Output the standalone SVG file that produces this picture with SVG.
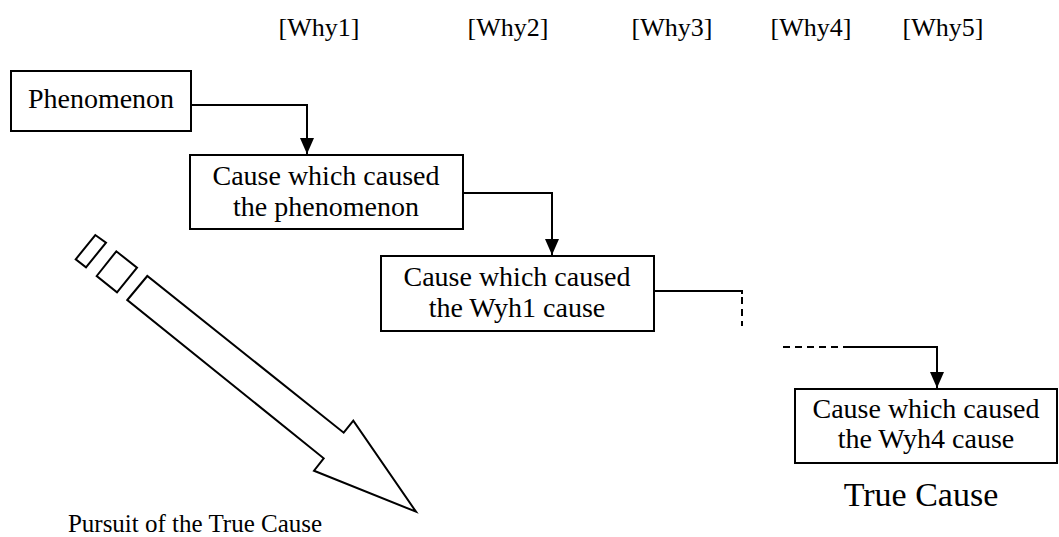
<svg xmlns="http://www.w3.org/2000/svg" width="1059" height="537" viewBox="0 0 1059 537">
  <style>
    .box { fill: #fff; stroke: #000; stroke-width: 2; }
    .lbl { font-family: "Liberation Serif", "Times New Roman", serif; font-size: 28px; fill: #000; text-anchor: middle; }
    .why { font-family: "Liberation Serif", "Times New Roman", serif; font-size: 26px; fill: #000; text-anchor: middle; }
    .wire { fill: none; stroke: #000; stroke-width: 2; }
    .dash { fill: none; stroke: #000; stroke-width: 2; stroke-dasharray: 7 5; }
    .big { fill: #fff; stroke: #000; stroke-width: 2; stroke-linejoin: miter; }
  </style>
  <defs>
    <marker id="head" markerUnits="userSpaceOnUse" markerWidth="16" markerHeight="14" viewBox="0 0 16 14" refX="16" refY="7" orient="auto">
      <path d="M0,0 L16,7 L0,14 Z" fill="#000"/>
    </marker>
  </defs>
  <rect width="1059" height="537" fill="#fff"/>

  <!-- column headings -->
  <g id="headings">
    <text class="why" x="319" y="36">[Why1]</text>
    <text class="why" x="508" y="36">[Why2]</text>
    <text class="why" x="672" y="36">[Why3]</text>
    <text class="why" x="811" y="36">[Why4]</text>
    <text class="why" x="943" y="36">[Why5]</text>
  </g>

  <!-- connectors -->
  <g id="connectors">
    <path class="wire" d="M191,105 H307 V154" marker-end="url(#head)"/>
    <path class="wire" d="M463,193 H552 V255" marker-end="url(#head)"/>
    <path class="wire" d="M654,291 H742 V294"/>
    <path class="dash" d="M742,297 V326"/>
    <path class="dash" d="M783,347 H850"/>
    <path class="wire" d="M850,347 H937 V388" marker-end="url(#head)"/>
  </g>

  <g id="phenomenon">
    <rect class="box" x="11" y="71" width="180" height="60"/>
    <text class="lbl" x="101" y="108">Phenomenon</text>
  </g>

  <g id="why1">
    <rect class="box" x="190" y="155" width="273" height="74"/>
    <text class="lbl" x="326" y="185">Cause which caused</text>
    <text class="lbl" x="326" y="216">the phenomenon</text>
  </g>

  <g id="why2">
    <rect class="box" x="381" y="256" width="273" height="75"/>
    <text class="lbl" x="517" y="286">Cause which caused</text>
    <text class="lbl" x="517" y="317">the Wyh1 cause</text>
  </g>

  <g id="why5">
    <rect class="box" x="795" y="389" width="262" height="74"/>
    <text class="lbl" x="926" y="418">Cause which caused</text>
    <text class="lbl" x="926" y="448">the Wyh4 cause</text>
  </g>

  <g id="true-cause">
    <text class="lbl" x="921" y="506" style="font-size:34px">True Cause</text>
  </g>

  <!-- hollow pursuit arrow with broken tail -->
  <g id="pursuit">
    <polygon class="big" points="75.7,259.3 95.3,235 106,242.7 86,267.3"/>
    <polygon class="big" points="96.7,276 116.3,251.3 137,267.7 117,292.3"/>
    <polygon class="big" points="127.3,300 147.3,276 343.7,432.7 353.3,420.7 416,511.7 314,470.7 323.7,458.3"/>
    <text class="lbl" x="195" y="532" style="font-size:25px">Pursuit of the True Cause</text>
  </g>
</svg>
